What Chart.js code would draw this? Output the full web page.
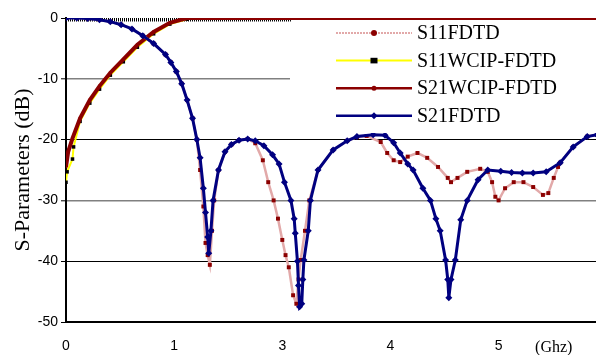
<!doctype html>
<html>
<head>
<meta charset="UTF-8">
<title>S-Parameters</title>
<script src="https://cdn.jsdelivr.net/npm/chart.js@4.4.1/dist/chart.umd.min.js"></script>
<style>
  body { margin: 0; background: #fff; overflow: hidden; }
  canvas { display: block; }
</style>
</head>
<body>
<!-- chart.js keeps ~5px on the right, so the canvas is a bit wider than the window -->
<canvas id="canvas" width="601" height="355"></canvas>
<script>
// x tick positions and the labels printed under them (as in the original figure)
var xTickPos = [0, 1, 2, 3, 4, 4.51];
var xTickLabels = ['0', '1', '3', '4', '5', '(Ghz)'];
var yTitle = 'S-Parameters (dB)';

// S21 FDTD (blue)
var s21fdtdX = [0,0.10,0.20,0.31,0.41,0.51,0.61,0.71,0.81,0.92,0.97,1.02,1.07,1.12,1.17,1.21,1.24,1.27,1.29,1.31,
  1.32,1.34,1.36,1.41,1.47,1.53,1.60,1.68,1.75,1.83,1.91,1.97,2.02,2.08,2.11,2.12,2.14,2.15,2.16,2.18,
  2.19,2.20,2.24,2.26,2.33,2.47,2.60,2.69,2.84,2.95,3.03,3.09,3.16,3.21,3.30,3.37,3.42,3.46,3.51,3.53,
  3.54,3.56,3.60,3.65,3.71,3.81,3.90,4.02,4.12,4.22,4.32,4.44,4.57,4.69,4.82,4.91];
var s21fdtdY = [0,0,-0.1,-0.3,-0.6,-1.1,-1.8,-2.9,-4.2,-6.0,-7.3,-8.8,-10.8,-13.5,-16.5,-20,-23,-28,-32,-36,
  -38.7,-35,-30,-25,-22,-20.8,-20.1,-19.9,-20.2,-21.0,-22.5,-24,-27,-30,-33,-35.4,-40,-44,-47.5,-47,
  -43,-39.8,-35,-30,-25,-21.7,-20.2,-19.5,-19.2,-19.3,-20.5,-22.2,-24,-25,-28,-30,-33,-35,-39.8,-43,
  -46,-43,-39.8,-33.2,-30,-26.6,-25,-25.2,-25.4,-25.5,-25.5,-25.3,-23.8,-21.2,-19.5,-19.2];

// S11 FDTD (pink line, dark red markers)
var s11fdtdX = [0,0.10,0.20,0.31,0.41,0.51,0.61,0.71,0.81,0.92,0.97,1.02,1.07,1.12,1.17,1.21,1.24,1.27,1.29,1.31,
  1.33,1.35,1.37,1.41,1.47,1.53,1.60,1.68,1.75,1.82,1.87,1.92,1.96,2.00,2.03,2.06,2.10,2.13,2.15,2.17,
  2.21,2.25,2.33,2.47,2.60,2.69,2.78,2.91,2.97,3.03,3.09,3.16,3.25,3.34,3.44,3.53,3.56,3.62,3.71,3.83,
  3.90,3.94,3.97,4.00,4.06,4.14,4.23,4.32,4.41,4.46,4.51,4.55,4.57,4.69,4.82,4.91];
var s11fdtdY = [0,0,-0.1,-0.3,-0.6,-1.1,-1.8,-2.9,-4.2,-6.0,-7.3,-8.8,-10.8,-13.5,-16.5,-20,-25,-31,-37,-39,
  -40.6,-35,-30,-25,-22,-20.8,-20.1,-19.9,-20.6,-23.4,-27,-30,-33,-36.5,-39,-41,-45.6,-47,-43,-39.8,
  -35,-30,-25,-21.7,-20.2,-19.6,-19.4,-20.4,-22.2,-23.4,-23.7,-22.8,-22.2,-23,-24.5,-26.3,-27,-26.3,-25.3,-24.8,
  -25.3,-27,-29.4,-30,-28,-27,-27,-27.8,-29.1,-28.8,-26.3,-24.5,-23.8,-21.2,-19.5,-19.2];

// S21 WCIP-FDTD (dark red)
var s21wcipX = [0,0.02,0.06,0.13,0.22,0.31,0.41,0.53,0.66,0.81,0.96,1.12,1.5,2,2.5,3,3.5,4,4.5,4.91];
var s21wcipY = [-24.5,-22,-19.8,-16.5,-13.5,-11.2,-9.0,-6.8,-4.4,-2.3,-0.8,0,0,0,0,0,0,0,0,0];

// S11 WCIP-FDTD (yellow line, black markers)
var s11wcipX = [0,0.01,0.06,0.07,0.13,0.22,0.31,0.41,0.53,0.66,0.81,0.96,1.12];
var s11wcipY = [-27,-25.3,-23.2,-21.2,-17,-14,-11.7,-9.4,-7.2,-4.8,-2.6,-1,-0.2];
// its markers along the 0 dB line
var s11wcipTopX = [0, 2.08];
var s11wcipTopY = [0, 0];

function pts(xs, ys) {
  return xs.map(function (x, i) { return { x: x, y: ys[i] }; });
}

var serif = "'Liberation Serif', 'Times New Roman', serif";
var sans = "'Liberation Sans', Arial, sans-serif";

var legendItems = [
  { label: 'S11FDTD', line: '#e2a9a9', dash: [2, 1], width: 2, marker: 'circle', mColor: '#8b0000', mSize: 3 },
  { label: 'S11WCIP-FDTD', line: '#ffff00', dash: [], width: 2, marker: 'rect', mColor: '#000', mSize: 3.5 },
  { label: 'S21WCIP-FDTD', line: '#8b0000', dash: [], width: 2.5, marker: 'circle', mColor: '#8b0000', mSize: 2.5 },
  { label: 'S21FDTD', line: '#000080', dash: [], width: 2.5, marker: 'diamond', mColor: '#000080', mSize: 3.5 }
];

// legend box drawn inside the plot, plus the y axis title
var boxLegend = {
  id: 'boxLegend',
  afterDatasetsDraw: function (chart) {
    var ctx = chart.ctx;
    ctx.save();
    ctx.fillStyle = '#fff';
    ctx.fillRect(290, 22, 311, 111);
    legendItems.forEach(function (it, i) {
      var y = 33 + i * 27.6;
      ctx.beginPath();
      ctx.setLineDash(it.dash);
      ctx.strokeStyle = it.line;
      ctx.lineWidth = it.width;
      ctx.moveTo(336, y);
      ctx.lineTo(412, y);
      ctx.stroke();
      ctx.setLineDash([]);
      ctx.fillStyle = it.mColor;
      var s = it.mSize;
      ctx.beginPath();
      if (it.marker === 'rect') {
        ctx.rect(374 - s, y - s * 0.8, 2 * s, 1.6 * s);
      } else if (it.marker === 'diamond') {
        ctx.moveTo(374, y - s); ctx.lineTo(374 + s, y); ctx.lineTo(374, y + s); ctx.lineTo(374 - s, y);
        ctx.closePath();
      } else {
        ctx.arc(374, y, s, 0, Math.PI * 2);
      }
      ctx.fill();
      ctx.fillStyle = '#000';
      ctx.font = '20px ' + serif;
      ctx.textAlign = 'left';
      ctx.textBaseline = 'middle';
      ctx.fillText(it.label, 417, y + 1);
    });
    // y title
    var a = chart.chartArea;
    ctx.translate(23, (a.top + a.bottom) / 2);
    ctx.rotate(-Math.PI / 2);
    ctx.font = '22px ' + serif;
    ctx.textAlign = 'center';
    ctx.textBaseline = 'middle';
    ctx.fillText(yTitle, 0, 0);
    ctx.restore();
  }
};

var ctx = document.getElementById('canvas').getContext('2d');
new Chart(ctx, {
  type: 'line',
  data: {
    datasets: [{
      label: 'S21FDTD',
      data: pts(s21fdtdX, s21fdtdY),
      borderColor: '#000080',
      backgroundColor: '#000080',
      borderWidth: 3,
      pointStyle: 'rectRot',
      pointRadius: 3.5,
      pointBorderWidth: 0,
      order: 0
    }, {
      label: 'S11FDTD',
      data: pts(s11fdtdX, s11fdtdY),
      borderColor: '#e2a9a9',
      backgroundColor: '#8b0000',
      borderWidth: 2.5,
      pointStyle: 'rect',
      pointRadius: 2.8,
      pointBorderWidth: 0,
      order: 1
    }, {
      label: 'S21WCIP-FDTD',
      data: pts(s21wcipX, s21wcipY),
      borderColor: '#8b0000',
      backgroundColor: '#8b0000',
      borderWidth: 4,
      pointStyle: 'rect',
      pointRadius: 2,
      pointBorderWidth: 0,
      order: 2
    }, {
      label: 'S11WCIP-FDTD',
      data: pts(s11wcipX, s11wcipY),
      borderColor: '#ffff00',
      backgroundColor: '#000',
      borderWidth: 2,
      pointStyle: 'rect',
      pointRadius: 2.5,
      pointBorderWidth: 0,
      order: 3
    }, {
      label: 'S11WCIP-FDTD top',
      data: pts(s11wcipTopX, s11wcipTopY),
      borderColor: '#000',
      borderWidth: 7,
      borderDash: [1, 1],
      pointRadius: 0,
      clip: 0,
      order: 4
    }]
  },
  options: {
    responsive: false,
    animation: false,
    devicePixelRatio: 1,
    layout: { padding: { top: 18, right: 0, left: 0, bottom: 0 } },
    plugins: {
      legend: { display: false },
      tooltip: { enabled: false }
    },
    scales: {
      x: {
        type: 'linear',
        min: 0,
        max: 4.91,
        afterFit: function (s) { s.height = 33; },
        afterBuildTicks: function (s) {
          s.ticks = xTickPos.map(function (v) { return { value: v }; });
        },
        grid: { display: false, drawTicks: false },
        border: { display: true, color: '#000', width: 2 },
        ticks: {
          autoSkip: false,
          maxRotation: 0,
          padding: 16,
          color: '#000',
          font: function (c) {
            return c.index === 5 ? { family: serif, size: 16 } : { family: sans, size: 14 };
          },
          callback: function (v, i) { return xTickLabels[i]; }
        }
      },
      y: {
        min: -50,
        max: 0,
        afterFit: function (s) { s.width = 66; },
        grid: {
          color: function (c) {
            var v = c.tick.value;
            if (v === 0 || v === -50) return 'rgba(0,0,0,0)';
            return (v === -10 || v === -30) ? '#808080' : '#000';
          },
          lineWidth: function (c) {
            var v = c.tick.value;
            return (v === -10 || v === -30) ? 1.6 : 1;
          },
          tickColor: '#000',
          tickLength: 5,
          tickWidth: 1
        },
        border: { display: true, color: '#000', width: 2 },
        ticks: {
          stepSize: 10,
          padding: 3,
          color: '#000',
          font: { family: sans, size: 14 }
        }
      }
    }
  },
  plugins: [boxLegend]
});
</script>
</body>
</html>
